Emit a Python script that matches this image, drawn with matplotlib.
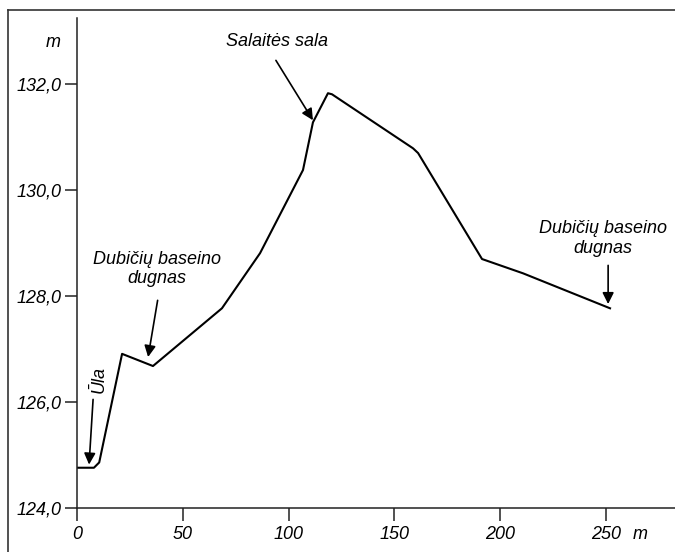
import matplotlib.pyplot as plt
from matplotlib.lines import Line2D

plt.rcParams['font.family'] = ['Liberation Sans', 'DejaVu Sans']
plt.rcParams['font.style'] = 'italic'

# profile of the terrain (distance m, height m)
distance = [0, 8, 10.5, 21.3, 35.9, 68.5, 86.5, 106.8, 111.5, 118.6, 120.5,
            158.8, 161.2, 191.4, 210.8, 251.9]
height = [124.76, 124.76, 124.86, 126.91, 126.68, 127.77, 128.81, 130.38, 131.28,
          131.83, 131.81, 130.79, 130.70, 128.70, 128.43, 127.77]

x_ticks = [0, 50, 100, 150, 200, 250]
y_ticks = [124, 126, 128, 130, 132]
y_tick_labels = ['124,0', '126,0', '128,0', '130,0', '132,0']

# annotations: text, text position, arrow start, arrow tip
notes = [
    ('Dubičių baseino\ndugnas', (37.8, 128.51), (38.1, 127.92), (33.6, 126.85)),
    ('Salaitės sala', (94.5, 132.81), (94.0, 132.45), (111.5, 131.32)),
    ('Dubičių baseino\ndugnas', (248.6, 129.09), (251.0, 128.58), (251.0, 127.85)),
]

fs = 13

fig = plt.figure(figsize=(6.75, 5.52), dpi=100)
ax = fig.add_axes([77 / 675, 44 / 552, 598 / 675, 490 / 552])

ax.plot(distance, height, color='black', lw=1.5, solid_joinstyle='round')

ax.set_xlim(0, 282.6)
ax.set_ylim(124, 133.25)
ax.set_xticks(x_ticks)
ax.set_xticklabels([str(v) for v in x_ticks])
ax.set_yticks(y_ticks)
ax.set_yticklabels(y_tick_labels)
ax.tick_params(direction='out', length=9, width=1.1, labelsize=fs, color='#222222')
ax.tick_params(axis='x', pad=4)
ax.tick_params(axis='y', pad=2)
for s in ['top', 'right']:
    ax.spines[s].set_visible(False)
for s in ['left', 'bottom']:
    ax.spines[s].set_linewidth(1.1)
    ax.spines[s].set_color('#222222')

# axis unit labels
ax.text(-11.3, 132.79, 'm', fontsize=fs, ha='center', va='center')
ax.text(266, -0.055, 'm', transform=ax.get_xaxis_transform(), fontsize=fs,
        ha='center', va='center')

arrow = dict(arrowstyle='-|>', color='black', lw=1.2, mutation_scale=17,
             shrinkA=0, shrinkB=0)

for text, pos, start, tip in notes:
    ax.text(pos[0], pos[1], text, fontsize=fs, ha='center', va='center',
            linespacing=1.2)
    ax.annotate('', xy=tip, xytext=start, arrowprops=arrow)

# river Ūla label, rotated
ax.text(10.4, 126.42, 'Ūla', fontsize=fs, rotation=90, ha='center', va='center')
ax.annotate('', xy=(5.7, 124.82), xytext=(7.6, 126.05), arrowprops=arrow)

# frame around the picture
fig.add_artist(Line2D([8 / 675, 8 / 675], [0, 1 - 10 / 552], color='#333333', lw=1.2))
fig.add_artist(Line2D([8 / 675, 1], [1 - 10 / 552, 1 - 10 / 552], color='#333333', lw=1.2))

fig.savefig('out.png', dpi=100)
